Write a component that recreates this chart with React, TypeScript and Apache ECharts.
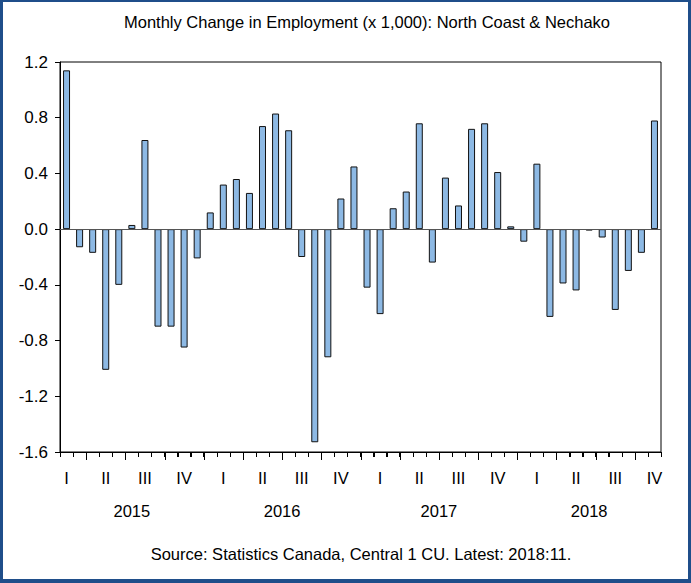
import React, { useEffect, useRef } from "react";
import * as echarts from "echarts";

// Months from 2015:02 to 2018:11
const months: string[] = [
  "2015-02","2015-03","2015-04","2015-05","2015-06","2015-07","2015-08","2015-09","2015-10","2015-11","2015-12",
  "2016-01","2016-02","2016-03","2016-04","2016-05","2016-06","2016-07","2016-08","2016-09","2016-10","2016-11","2016-12",
  "2017-01","2017-02","2017-03","2017-04","2017-05","2017-06","2017-07","2017-08","2017-09","2017-10","2017-11","2017-12",
  "2018-01","2018-02","2018-03","2018-04","2018-05","2018-06","2018-07","2018-08","2018-09","2018-10","2018-11",
];

const changes: number[] = [
  1.14, -0.13, -0.17, -1.01, -0.40, 0.03, 0.64, -0.70, -0.70, -0.85, -0.21,
  0.12, 0.32, 0.36, 0.26, 0.74, 0.83, 0.71, -0.20, -1.53, -0.92, 0.22, 0.45,
  -0.42, -0.61, 0.15, 0.27, 0.76, -0.24, 0.37, 0.17, 0.72, 0.76, 0.41, 0.02,
  -0.09, 0.47, -0.63, -0.39, -0.44, -0.01, -0.06, -0.58, -0.30, -0.17, 0.78,
];

const quarterLabels: string[] = ["I", "II", "III", "IV"];
const years: string[] = ["2015", "2016", "2017", "2018"];
const yTicks = { min: -1.6, max: 1.2, step: 0.4 };

const TITLE = "Monthly Change in Employment (x 1,000): North Coast & Nechako";
const SOURCE = "Source: Statistics Canada, Central 1 CU. Latest: 2018:11.";
const FONT = "'Liberation Sans', Arial, sans-serif";
const FRAME = "#1f4e8a";

export default function App() {
  const ref = useRef<HTMLDivElement>(null);
  useEffect(() => {
    if (!ref.current) return;
    const chart = echarts.init(ref.current, undefined, { renderer: "svg" });
    const n = months.length;
    const monthNum = (i: number) => parseInt(months[i].slice(5), 10);
    const yearOf = (i: number) => months[i].slice(0, 4);

    chart.setOption({
      animation: false,
      backgroundColor: "#ffffff",
      textStyle: { fontFamily: FONT },
      title: [
        {
          text: TITLE,
          left: 362,
          top: 8,
          textAlign: "center",
          textStyle: { fontFamily: FONT, fontSize: 16.5, fontWeight: "normal", color: "#000" },
        },
        {
          text: SOURCE,
          left: 356,
          top: 540,
          textAlign: "center",
          textStyle: { fontFamily: FONT, fontSize: 16.5, fontWeight: "normal", color: "#000" },
        },
      ],
      grid: {
        left: 60,
        right: 30,
        top: 62,
        bottom: 131,
        show: true,
        borderColor: "#000",
        borderWidth: 1,
        backgroundColor: "#fff",
      },
      xAxis: {
        type: "category",
        data: months,
        boundaryGap: true,
        position: "bottom",
        axisLine: { show: true, onZero: false, lineStyle: { color: "#000", width: 1 } },
        axisTick: { show: true, interval: 0, length: 5, lineStyle: { color: "#000", width: 1 } },
        axisLabel: {
          show: true,
          interval: (i: number) => monthNum(i) % 3 === 2,
          margin: 17,
          fontSize: 16.5,
          color: "#000",
          fontFamily: FONT,
          formatter: (v: string) => quarterLabels[(parseInt(v.slice(5), 10) - 2) / 3] ?? "",
        },
        splitLine: { show: false },
      },
      yAxis: {
        type: "value",
        min: yTicks.min,
        max: yTicks.max,
        interval: yTicks.step,
        axisLine: { show: true, lineStyle: { color: "#000" } },
        axisTick: { show: true, length: 5, lineStyle: { color: "#000" } },
        axisLabel: {
          margin: 12,
          fontSize: 17,
          color: "#000",
          fontFamily: FONT,
          formatter: (v: number) => v.toFixed(1),
        },
        splitLine: { show: false },
      },
      series: [
        {
          type: "bar",
          barWidth: 7,
          data: changes,
          itemStyle: {
            color: "#8db9e4",
            borderColor: "#111",
            borderWidth: 1,
          },
          markLine: {
            silent: true,
            symbol: "none",
            label: { show: false },
            lineStyle: { color: "#555", width: 1, type: "solid" },
            data: [{ yAxis: 0 }],
          },
        },
      ],
    });

    // Positions from the chart's own scales
    const cx = (i: number) => chart.convertToPixel({ xAxisIndex: 0 }, months[i]) as number;
    const band = cx(1) - cx(0);
    const bound = (i: number) => (i < n ? cx(i) - band / 2 : cx(n - 1) + band / 2);
    const yb = chart.convertToPixel({ yAxisIndex: 0 }, yTicks.min) as number;

    const graphics: any[] = [
      { type: "rect", z: 100, shape: { x: 0, y: 0, width: 691, height: 2 }, style: { fill: FRAME } },
      { type: "rect", z: 100, shape: { x: 0, y: 0, width: 3, height: 583 }, style: { fill: FRAME } },
      { type: "rect", z: 100, shape: { x: 688, y: 0, width: 3, height: 583 }, style: { fill: FRAME } },
      { type: "rect", z: 100, shape: { x: 0, y: 579, width: 691, height: 4 }, style: { fill: FRAME } },
    ];
    for (let i = 0; i <= n; i++) {
      const major = i > 0 && i < n && (monthNum(i) - 1) % 3 === 0;
      const x = Math.round(bound(i));
      graphics.push({
        type: "rect",
        z: 100,
        silent: true,
        shape: { x: x, y: Math.round(yb), width: 1, height: major ? 8 : 5 },
        style: { fill: "#000" },
      });
    }
    years.forEach((y) => {
      const idx = months.map((_, i) => i).filter((i) => yearOf(i) === y);
      const c = (bound(idx[0]) + bound(idx[idx.length - 1] + 1)) / 2;
      graphics.push({
        type: "text",
        z: 100,
        silent: true,
        x: c,
        y: yb + 59,
        style: {
          text: y,
          fill: "#000",
          fontSize: 16.5,
          fontFamily: FONT,
          font: `16.5px ${FONT}`,
          textAlign: "center",
          textVerticalAlign: "middle",
          align: "center",
          verticalAlign: "middle",
        },
      });
    });
    chart.setOption({ graphic: graphics });

    return () => chart.dispose();
  }, []);
  return (
    <div
      ref={ref}
      style={{ position: "absolute", left: 0, top: 0, width: 691, height: 583 }}
    />
  );
}
